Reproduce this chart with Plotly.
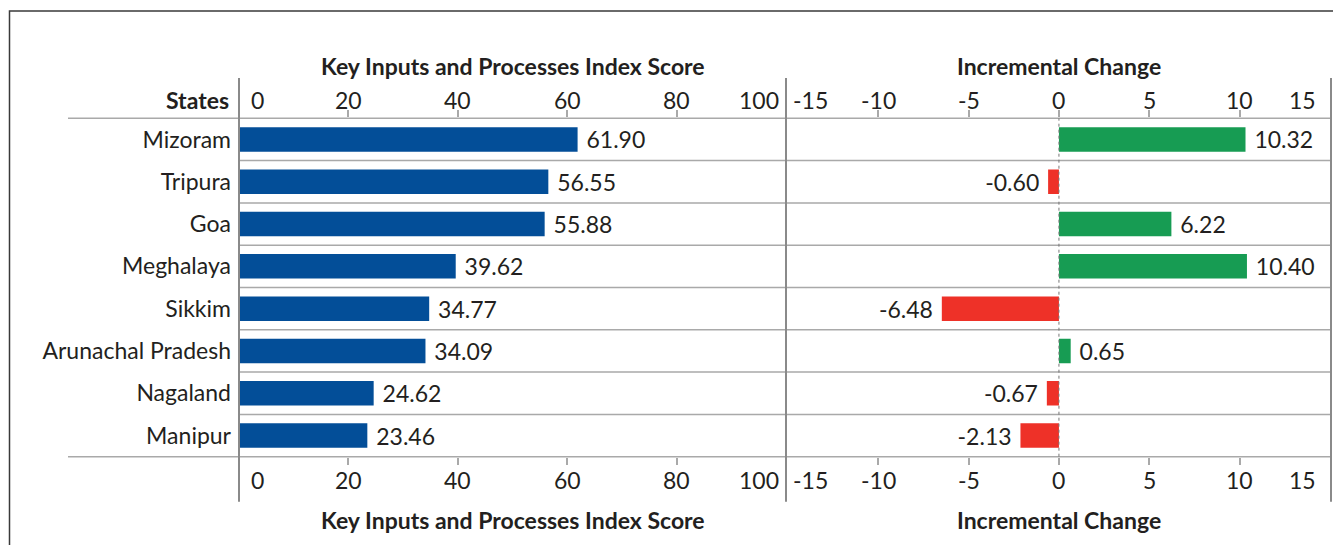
import plotly.graph_objects as go

# ---------------- data ----------------
states = ["Mizoram", "Tripura", "Goa", "Meghalaya", "Sikkim",
          "Arunachal Pradesh", "Nagaland", "Manipur"]
index_score = [61.90, 56.55, 55.88, 39.62, 34.77, 34.09, 24.62, 23.46]
incremental_change = [10.32, -0.60, 6.22, 10.40, -6.48, 0.65, -0.67, -2.13]
score_ticks = [0, 20, 40, 60, 80, 100]
change_ticks = [-15, -10, -5, 0, 5, 10, 15]
score_title = "Key Inputs and Processes Index Score"
change_title = "Incremental Change"
row_header = "States"

# ---------------- style ----------------
W, H = 1333, 545
FONT = "Lato"
FS = 23
TXT = "#231F20"
BLUE = "#034E98"
GREEN = "#179C53"
RED = "#EE3128"
GRID = "#A9A9A9"
VLINE = "#8A8A8A"


def px(x):
    return x / W


def py(y):
    return 1 - y / H


def value_label(v):
    s = f"{v:.2f}"
    return f"{s} " if v < 0 else f" {s}"


left_dom = [px(239), px(786)]
right_dom = [px(786), px(1331)]
y_dom = [py(456.7), py(118.3)]
score_range = [0, 100]
change_range = [-15.1, 15.05]

fig = go.Figure()

fig.add_trace(go.Bar(
    y=states, x=index_score, orientation="h", xaxis="x", yaxis="y",
    marker=dict(color=BLUE, line=dict(width=0)), width=0.58,
    text=[value_label(v) for v in index_score], textposition="outside",
    textfont=dict(family=FONT, size=FS, color=TXT),
    constraintext="none", cliponaxis=False, showlegend=False,
))
fig.add_trace(go.Bar(
    y=states, x=incremental_change, orientation="h", xaxis="x2", yaxis="y2",
    marker=dict(color=[GREEN if v >= 0 else RED for v in incremental_change],
                line=dict(width=0)), width=0.58,
    text=[value_label(v) for v in incremental_change], textposition="outside",
    textfont=dict(family=FONT, size=FS, color=TXT),
    constraintext="none", cliponaxis=False, showlegend=False,
))

tick_common = dict(ticks="outside", ticklen=7, tickwidth=1.5, tickcolor=GRID,
                   showticklabels=False, showgrid=False, zeroline=False,
                   showline=False, fixedrange=True)

fig.update_layout(
    width=W, height=H,
    margin=dict(l=0, r=0, t=0, b=0),
    paper_bgcolor="white", plot_bgcolor="white",
    font=dict(family=FONT, size=FS, color=TXT),
    bargap=0.42,
    xaxis=dict(domain=left_dom, range=score_range, anchor="y", side="bottom",
               tickvals=score_ticks[1:-1], **tick_common),
    xaxis3=dict(domain=left_dom, range=score_range, anchor="y", side="top",
                overlaying="x", tickvals=score_ticks[1:-1], **tick_common),
    xaxis2=dict(domain=right_dom, range=change_range, anchor="y2", side="bottom",
                tickvals=change_ticks[1:-1], **tick_common),
    xaxis4=dict(domain=right_dom, range=change_range, anchor="y2", side="top",
                overlaying="x2", tickvals=change_ticks[1:-1], **tick_common),
    yaxis=dict(domain=y_dom, anchor="x", categoryorder="array",
               categoryarray=states, autorange="reversed", showgrid=False,
               zeroline=False, showline=False, ticks="", ticklabelstandoff=7,
               tickfont=dict(family=FONT, size=FS, color=TXT), fixedrange=True),
    yaxis2=dict(domain=y_dom, anchor="x2", matches="y", showticklabels=False,
                showgrid=False, zeroline=False, showline=False, ticks="",
                fixedrange=True),
)

# dummy traces to activate top axes
fig.add_trace(go.Scatter(x=[None], y=[None], xaxis="x3", yaxis="y", showlegend=False))
fig.add_trace(go.Scatter(x=[None], y=[None], xaxis="x4", yaxis="y2", showlegend=False))

shapes = []
# outer border (top + left)
shapes.append(dict(type="path", xref="paper", yref="paper",
                   path=f"M {px(9.5)} 0 L {px(9.5)} {py(11)} L 1.01 {py(11)}",
                   line=dict(color="#3A3A3A", width=1.5)))
# top and bottom full-width rules
for yy in (118.3, 456.7):
    shapes.append(dict(type="line", xref="paper", yref="paper",
                       x0=px(68), x1=px(1331), y0=py(yy), y1=py(yy),
                       line=dict(color=GRID, width=1.5)))
# row separators
for i in range(len(states) - 1):
    shapes.append(dict(type="line", xref="paper", yref="y",
                       x0=px(239), x1=px(1331), y0=i + 0.5, y1=i + 0.5,
                       line=dict(color=GRID, width=1.5)))
# vertical panel lines
for xx in (239, 786, 1331):
    shapes.append(dict(type="line", xref="paper", yref="paper",
                       x0=px(xx), x1=px(xx), y0=py(501.7), y1=py(78),
                       line=dict(color=VLINE, width=2)))
# dotted zero line
shapes.append(dict(type="line", xref="x2", yref="paper", x0=0, x1=0,
                   y0=y_dom[0], y1=y_dom[1],
                   line=dict(color="#777777", width=1, dash="dot")))
fig.update_layout(shapes=shapes)

ann = []
top_y, bot_y = py(100), py(480)


def tick_label(axis, v, first, last):
    if v == first:
        return dict(xanchor="left" if axis == "x2" else "center",
                    xshift=3 if axis == "x2" else 18)
    if v == last:
        return dict(xanchor="right", xshift=-5 if axis == "x" else -12)
    return dict(xanchor="center", xshift=0)


for axis, vals in (("x", score_ticks), ("x2", change_ticks)):
    for v in vals:
        opts = tick_label(axis, v, vals[0], vals[-1])
        for yy in (top_y, bot_y):
            ann.append(dict(x=v, y=yy, xref=axis, yref="paper", text=str(v),
                            showarrow=False, yanchor="middle",
                            font=dict(family=FONT, size=FS, color=TXT), **opts))

for title, dom in ((score_title, left_dom), (change_title, right_dom)):
    for yy in (py(66), py(520)):
        ann.append(dict(x=(dom[0] + dom[1]) / 2, y=yy, xref="paper", yref="paper",
                        text=f"<b>{title}</b>", showarrow=False,
                        xanchor="center", yanchor="middle",
                        font=dict(family=FONT, size=FS, color=TXT)))

ann.append(dict(x=px(231), y=top_y, xref="paper", yref="paper",
                text=f"<b>{row_header}</b>", showarrow=False,
                xanchor="right", yanchor="middle",
                font=dict(family=FONT, size=FS, color=TXT)))
fig.update_layout(annotations=ann)

fig.write_html("out.html", config={"displayModeBar": False},
               post_script="document.body.style.margin='0';document.body.style.overflow='hidden';")
